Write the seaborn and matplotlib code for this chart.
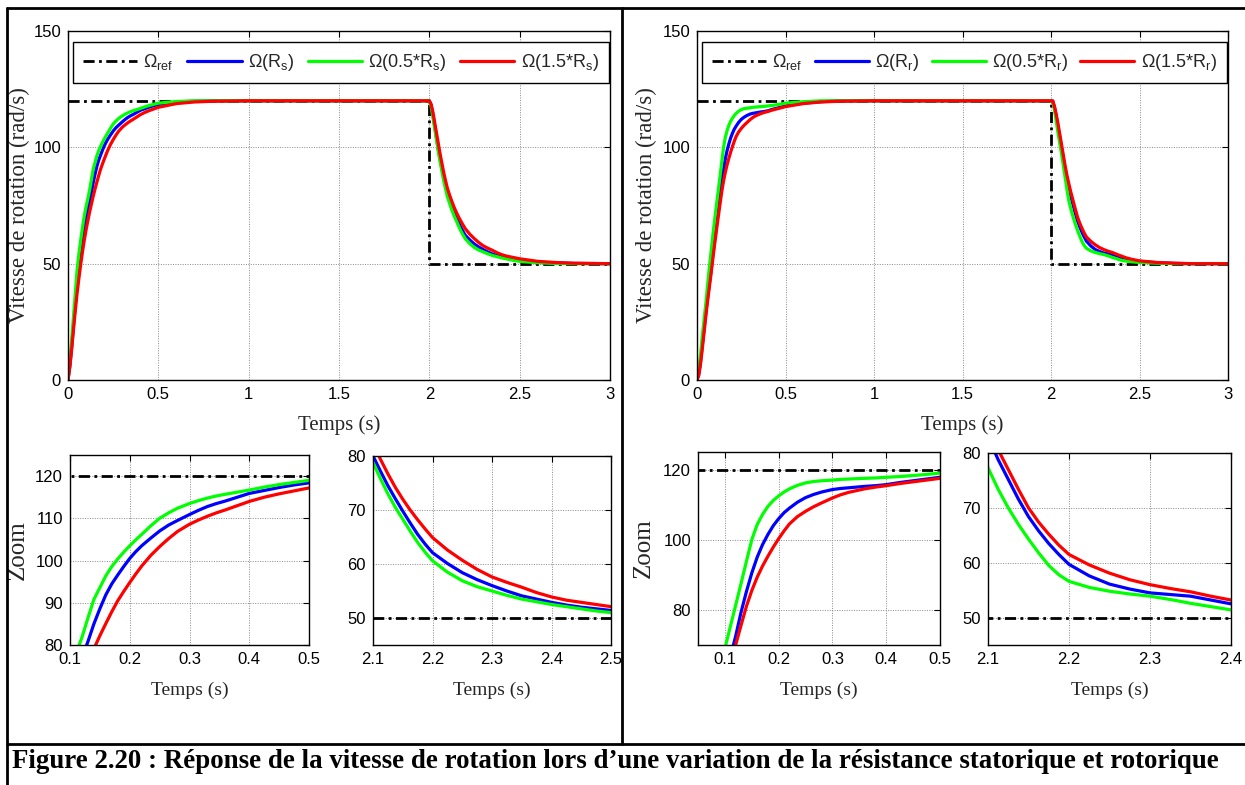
import matplotlib
matplotlib.use("Agg")
import matplotlib.pyplot as plt
from matplotlib.lines import Line2D
import seaborn as sns
import pandas as pd

# ---------------- data ----------------
temps = [0, 0.01, 0.02, 0.03, 0.04, 0.05, 0.06, 0.07, 0.08, 0.09,
         0.1, 0.11, 0.12, 0.13, 0.14, 0.15, 0.16, 0.17, 0.18, 0.19,
         0.2, 0.21, 0.22, 0.235, 0.25, 0.265, 0.28, 0.3, 0.315, 0.33,
         0.345, 0.36, 0.38, 0.4, 0.425, 0.45, 0.475, 0.5, 0.6, 0.7,
         0.8, 1.0, 1.25, 1.5, 1.75, 2.0, 2.01, 2.02, 2.03, 2.04,
         2.05, 2.06, 2.07, 2.08, 2.09, 2.1, 2.1125, 2.125, 2.1375, 2.15,
         2.1625, 2.175, 2.1875, 2.2, 2.225, 2.25, 2.275, 2.3, 2.325, 2.35,
         2.375, 2.4, 2.425, 2.45, 2.475, 2.5, 2.6, 2.7, 2.8, 3.0]

ref_t = [0, 2.0, 2.0, 3.0]
ref_v = [120, 120, 50, 50]

# variation of stator resistance Rs
w_rs = [0, 6, 14, 23, 32, 40.5, 48, 54.5, 60, 65,
        69.5, 73.5, 77, 80.8, 85, 88.6, 91.9, 94.5, 96.6, 98.6,
        100.5, 102.1, 103.5, 105.3, 107, 108.4, 109.5, 110.9, 111.9, 112.8,
        113.5, 114.1, 115.0, 115.9, 116.6, 117.3, 117.9, 118.4, 119.5, 119.8,
        120, 120, 120, 120, 120, 120, 118, 114, 109, 104,
        99, 95, 91, 87, 83.5, 80, 77.2, 74.5, 72.1, 69.8,
        67.6, 65.5, 63.7, 62.1, 60.1, 58.4, 57.1, 56, 55, 54.1,
        53.5, 52.9, 52.4, 52, 51.7, 51.4, 50.6, 50.3, 50.1, 50]
w_05rs = [0, 8, 17, 27, 37, 47, 54, 60, 65.5, 70.5,
          74.5, 78, 81.8, 86.4, 90.8, 93.6, 96.4, 98.6, 100.4, 102.0,
          103.5, 104.9, 106.2, 108.2, 110, 111.3, 112.4, 113.5, 114.2, 114.8,
          115.3, 115.7, 116.2, 116.7, 117.4, 118, 118.5, 119, 119.7, 120,
          120, 120, 120, 120, 120, 120, 117.5, 113, 108, 103,
          98, 93.5, 89.5, 85.5, 82, 78.8, 75.8, 73, 70.5, 68.3,
          66.1, 64, 62.2, 60.6, 58.5, 56.9, 55.8, 55, 54.2, 53.5,
          53, 52.5, 52.1, 51.7, 51.3, 51, 50.4, 50.1, 50, 50]
w_15rs = [0, 5.5, 13, 21.5, 29.5, 37, 43.5, 49.5, 55, 60,
          64.5, 68.5, 72.3, 75.8, 79.1, 82.2, 85.1, 87.9, 90.5, 92.7,
          94.8, 96.8, 98.7, 101.2, 103.3, 105.2, 106.9, 108.6, 109.6, 110.5,
          111.3, 112, 113, 114, 115, 115.8, 116.5, 117.2, 118.8, 119.5,
          119.8, 120, 120, 120, 120, 120, 118.5, 115, 110.5, 106,
          101.5, 97, 93, 89, 85.6, 82.4, 79.4, 76.7, 74.2, 72,
          70, 68.2, 66.5, 64.9, 62.6, 60.7, 59, 57.6, 56.6, 55.7,
          54.7, 53.9, 53.3, 52.9, 52.5, 52.1, 51, 50.5, 50.2, 50]

# variation of rotor resistance Rr
w_rr = [0, 2.5, 8, 15, 22, 29, 35.5, 41.5, 47.5, 54,
        60.5, 66.5, 72.5, 79.3, 85.2, 90.5, 95, 98.6, 101.5, 104,
        106, 107.7, 109, 110.7, 112, 112.9, 113.6, 114.3, 114.6, 114.8,
        115.0, 115.2, 115.4, 115.7, 116.3, 116.8, 117.3, 117.8, 119, 119.6,
        120, 120, 120, 120, 120, 120, 119.8, 117, 113, 108.5,
        104, 99.5, 95, 90.5, 86.5, 83, 78.8, 75.2, 71.6, 68.4,
        65.8, 63.5, 61.5, 59.7, 57.6, 56.1, 55.2, 54.5, 54.2, 53.9,
        53.2, 52.5, 51.9, 51.5, 51.2, 51, 50.4, 50.1, 50, 50]
w_05rr = [0, 4.5, 11, 19, 26, 33, 41, 48.5, 55.5, 62.5,
          69, 75.2, 81.3, 87.5, 93.8, 100, 104.3, 107.2, 109.5, 111.2,
          112.5, 113.6, 114.5, 115.5, 116.2, 116.6, 116.8, 117, 117.2, 117.3,
          117.4, 117.5, 117.6, 117.8, 118, 118.3, 118.6, 119, 119.6, 120,
          120, 120, 120, 120, 120, 120, 119.5, 116, 111, 106,
          101.5, 97, 92, 87, 82, 77.3, 73.4, 70, 67, 64.3,
          61.8, 59.5, 57.8, 56.6, 55.5, 54.8, 54.3, 53.9, 53.3, 52.6,
          52, 51.4, 51.1, 50.9, 50.7, 50.5, 50.2, 50, 50, 50]
w_15rr = [0, 2, 7, 13.5, 20.5, 27.5, 34, 40, 46, 52.5,
          58.5, 64.3, 70, 75.6, 81, 85.5, 89.3, 92.5, 95.3, 97.9,
          100.3, 102.5, 104.5, 106.6, 108.1, 109.4, 110.5, 111.9, 112.8, 113.5,
          114, 114.5, 115, 115.4, 116, 116.5, 117, 117.5, 118.8, 119.5,
          119.8, 120, 120, 120, 120, 120, 120, 117.5, 114, 110,
          105.5, 101, 96.5, 92, 88, 84.6, 80.6, 77, 73.4, 70,
          67.4, 65.2, 63.2, 61.5, 59.6, 58.1, 56.9, 56, 55.3, 54.7,
          53.9, 53.2, 52.5, 52, 51.6, 51.2, 50.5, 50.2, 50, 50]

labels_rs = [r'$\mathrm{\Omega_{ref}}$', r'$\mathrm{\Omega(R_s)}$',
             r'$\mathrm{\Omega(0.5{*}R_s)}$', r'$\mathrm{\Omega(1.5{*}R_s)}$']
labels_rr = [r'$\mathrm{\Omega_{ref}}$', r'$\mathrm{\Omega(R_r)}$',
             r'$\mathrm{\Omega(0.5{*}R_r)}$', r'$\mathrm{\Omega(1.5{*}R_r)}$']

caption = ("Figure 2.20 : Réponse de la vitesse de rotation lors d\u2019une "
           "variation de la résistance statorique et rotorique")

# ---------------- style ----------------
sns.set_theme(style="white")
plt.rcParams['font.family'] = ['Liberation Sans', 'DejaVu Sans']
plt.rcParams['mathtext.fontset'] = 'custom'
plt.rcParams['mathtext.rm'] = 'Liberation Sans'
plt.rcParams['mathtext.it'] = 'Liberation Sans:italic'
plt.rcParams['mathtext.bf'] = 'Liberation Sans:bold'
SERIF = ['Liberation Serif', 'DejaVu Serif']

W, H = 1245, 785
fig = plt.figure(figsize=(W / 100, H / 100), dpi=100)
fig.patch.set_facecolor('white')


def add_ax(l, t, r, b):
    return fig.add_axes([l / W, 1 - b / H, (r - l) / W, (b - t) / H])


COLORS = ['black', (0, 0, 1), (0, 1, 0), (1, 0, 0)]
DASHDOT = (0, (4, 1.6, 1, 1.6))


def draw(ax, series, labels, lw=2.3):
    sns.lineplot(x=ref_t, y=ref_v, ax=ax, color='black', lw=2.0,
                 linestyle=DASHDOT, sort=False, estimator=None,
                 label=labels[0])
    for vals, col, lab in zip(series, COLORS[1:], labels[1:]):
        df = pd.DataFrame({'t': temps, 'w': vals})
        sns.lineplot(data=df, x='t', y='w', ax=ax, color=col, lw=lw,
                     sort=False, estimator=None, label=lab)


def style(ax, xlim, ylim, xticks, yticks, xticklabels=None, labelsize=12):
    ax.set_xlim(*xlim)
    ax.set_ylim(*ylim)
    ax.set_xticks(xticks)
    ax.set_yticks(yticks)
    if xticklabels is not None:
        ax.set_xticklabels(xticklabels)
    ax.grid(True, color='#888888', linestyle=(0, (1, 1.5)), lw=0.7)
    ax.tick_params(direction='in', top=True, right=True, length=4,
                   width=0.8, labelsize=labelsize, pad=5, colors='black')
    for s in ax.spines.values():
        s.set_color('black')
        s.set_linewidth(1.0)
        s.set_visible(True)
    ax.set_facecolor('white')
    ax.set_xlabel('')
    ax.set_ylabel('')


main_xticks = [0, 0.5, 1, 1.5, 2, 2.5, 3]
main_xlabels = ['0', '0.5', '1', '1.5', '2', '2.5', '3']

panels = [
    dict(series=[w_rs, w_05rs, w_15rs], labels=labels_rs,
         main=(68, 31, 610, 380), main_ylab_x=30, zoom_ylab_x=29,
         z1=(70, 455, 309, 645), z1x=(0.1, 0.5), z1y=(80, 125),
         z1yt=[80, 90, 100, 110, 120],
         z2=(373, 456, 611, 645), z2x=(2.1, 2.5), z2xt=[2.1, 2.2, 2.3, 2.4, 2.5]),
    dict(series=[w_rr, w_05rr, w_15rr], labels=labels_rr,
         main=(697, 31, 1228, 380), main_ylab_x=657, zoom_ylab_x=655,
         z1=(698, 452, 940, 645), z1x=(0.05, 0.5), z1y=(70, 125),
         z1yt=[80, 100, 120],
         z2=(988, 453, 1231, 645), z2x=(2.1, 2.4), z2xt=[2.1, 2.2, 2.3, 2.4]),
]

for p in panels:
    l, t, r, b = p['main']
    ax = add_ax(l, t, r, b)
    draw(ax, p['series'], p['labels'])
    style(ax, (0, 3), (0, 150), main_xticks, [0, 50, 100, 150], main_xlabels)
    ax.set_xlabel('Temps (s)', family=SERIF, fontsize=15)
    ax.set_ylabel('Vitesse de rotation (rad/s)', family=SERIF, fontsize=16.5)
    ax.xaxis.set_label_coords(0.5, (b - 415) / (b - t))
    ax.yaxis.set_label_coords((p['main_ylab_x'] - l) / (r - l), 0.5)
    # legend box
    lx0, ly0, lx1, ly1 = l + 5, t + 4, r - 1, t + 52
    leg = ax.legend(loc='lower left',
                    bbox_to_anchor=((lx0 - l) / (r - l), (b - ly1) / (b - t),
                                    (lx1 - lx0) / (r - l), (ly1 - ly0) / (b - t)),
                    mode='expand', ncol=4, fontsize=13, frameon=True,
                    fancybox=False, framealpha=1, edgecolor='black',
                    borderaxespad=0, handlelength=3.0, handletextpad=0.35,
                    borderpad=0.55)
    leg.get_frame().set_linewidth(1.0)

    # zoom 1
    l, t, r, b = p['z1']
    az = add_ax(l, t, r, b)
    draw(az, p['series'], p['labels'])
    az.get_legend().remove()
    style(az, p['z1x'], p['z1y'], [0.1, 0.2, 0.3, 0.4, 0.5], p['z1yt'],
          ['0.1', '0.2', '0.3', '0.4', '0.5'])
    az.set_xlabel('Temps (s)', family=SERIF, fontsize=14)
    az.set_ylabel('Zoom', family=SERIF, fontsize=18)
    az.xaxis.set_label_coords(0.5, (b - 682) / (b - t))
    az.yaxis.set_label_coords((p['zoom_ylab_x'] - l) / (r - l), 0.5)

    # zoom 2
    l, t, r, b = p['z2']
    az2 = add_ax(l, t, r, b)
    draw(az2, p['series'], p['labels'])
    az2.get_legend().remove()
    style(az2, p['z2x'], (45, 80), p['z2xt'], [50, 60, 70, 80],
          [f'{v:.1f}' for v in p['z2xt']])
    az2.set_xlabel('Temps (s)', family=SERIF, fontsize=14)
    az2.xaxis.set_label_coords(0.5, (b - 682) / (b - t))


# ---------------- frame lines ----------------
def fline(x0, y0, x1, y1, lw=2.0):
    fig.add_artist(Line2D([x0 / W, x1 / W], [1 - y0 / H, 1 - y1 / H],
                          color='black', lw=lw, transform=fig.transFigure))


fline(7, 8, 1245, 8)
fline(7, 8, 7, 785)
fline(622, 8, 622, 744)
fline(7, 744, 1245, 744)

# ---------------- caption ----------------
cap = fig.text(12 / W, 1 - 761 / H, caption, family=SERIF, weight='bold',
               fontsize=18, ha='left', va='center', color='black')
fig.canvas.draw()
wpx = cap.get_window_extent(fig.canvas.get_renderer()).width
cap.set_fontsize(18 * 1205 / wpx)

fig.savefig('out.png', dpi=100, facecolor='white')
